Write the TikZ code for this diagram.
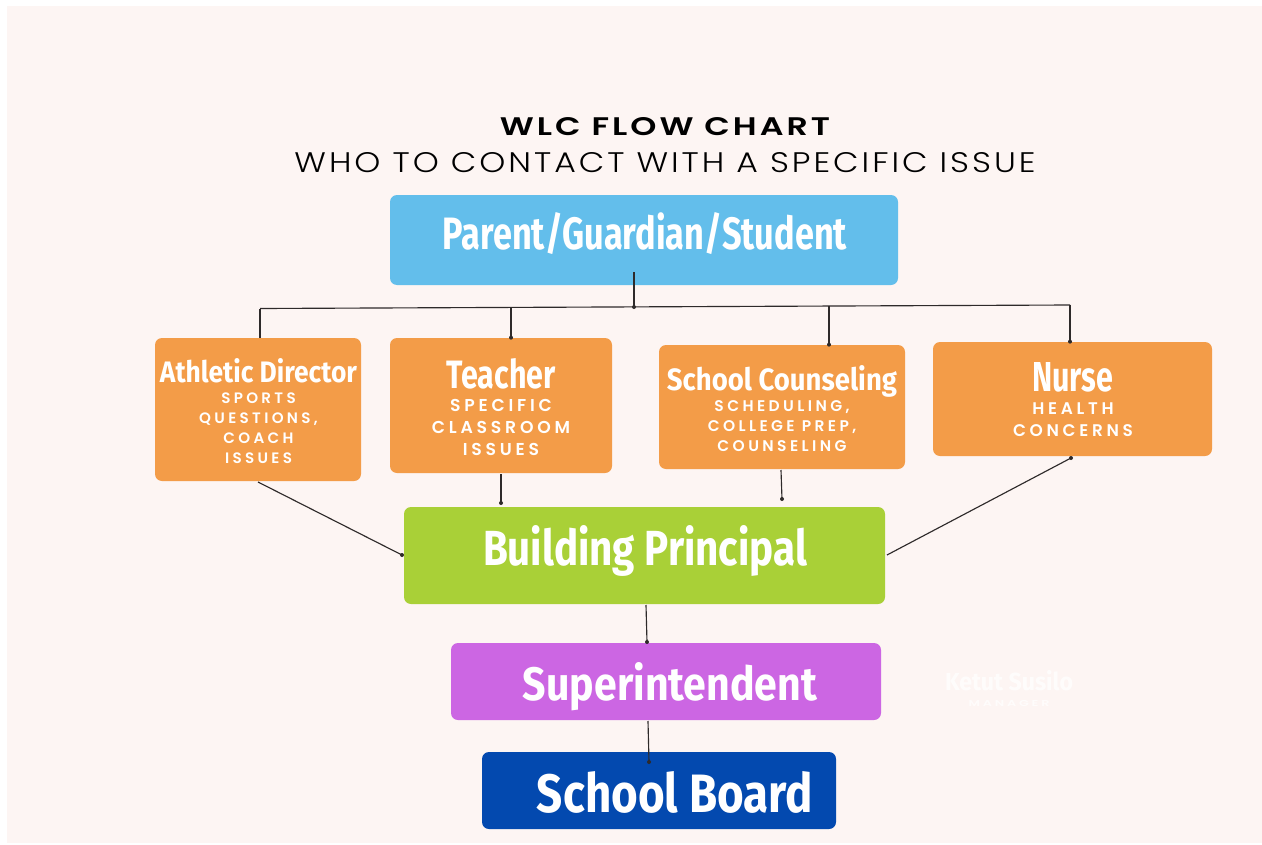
\documentclass[tikz,border=0pt]{standalone}
\usepackage{fontspec}
\usepackage{graphicx}
\usetikzlibrary{fit}
\setmainfont{Poppins}
\newfontfamily\fira{Fira Sans}
\newfontfamily\popls{Poppins SemiBold}[LetterSpace=22]
\newfontfamily\poptitle{Poppins SemiBold}[LetterSpace=9]
\newfontfamily\poplight{Poppins Light}[LetterSpace=9]
\newlength\px \setlength\px{0.02cm}
\newcommand\hd[3]{\resizebox{#1\px}{#2\px}{\fira\bfseries #3}}
\definecolor{bg}{HTML}{FDF5F3}
\definecolor{cblue}{HTML}{63BEEB}
\definecolor{corange}{HTML}{F39C48}
\definecolor{cgreen}{HTML}{A9D037}
\definecolor{cpurple}{HTML}{CC66E3}
\definecolor{cnavy}{HTML}{0349AF}
\definecolor{cline}{HTML}{2E2A2A}
\tikzset{
  box/.style={rectangle, rounded corners=0.14cm, inner sep=0pt, draw=none},
  ttl/.style={anchor=base, inner sep=0pt, text=white},
  sub/.style={anchor=base, inner sep=0pt, text=white, align=center},
  ln/.style={draw=cline, line width=0.65pt},
  dot/.style={fill=cline},
}
\begin{document}
\begin{tikzpicture}[x=0.02cm, y=-0.02cm]
\useasboundingbox (0,0) rectangle (1262,845);
\fill[white] (0,0) rectangle (1262,845);
\fill[bg] (7,6) rectangle (1262,843);

% title
\node[anchor=base, inner sep=0pt] (t1) at (665,135) {\resizebox{330\px}{18\px}{\poptitle WLC FLOW CHART}};
\node[anchor=base, inner sep=0pt] (t2) at (665,172) {\resizebox{741\px}{20\px}{\poplight WHO TO CONTACT WITH A SPECIFIC ISSUE}};

% boxes
\node[box, fill=cblue, fit={(390,195) (898,285)}] (pg) {};
\node[box, fill=corange, fit={(155,338) (361,481)}] (ad) {};
\node[box, fill=corange, fit={(390,338) (612,473)}] (te) {};
\node[box, fill=corange, fit={(659,345) (905,469)}] (sc) {};
\node[box, fill=corange, fit={(933,342) (1212,456)}] (nu) {};
\node[box, fill=cgreen, fit={(404,507) (885,604)}] (bp) {};
\node[box, fill=cpurple, fit={(451,643) (881,720)}] (su) {};
\node[box, fill=cnavy, fit={(482,752) (836,829)}] (sb) {};

% headings
\node[ttl] (pgt) at (645,249) {\hd{404}{37}{Parent/Guardian/Student}};
\node[ttl] (adt) at (258.5,382) {\hd{197}{24}{Athletic Director}};
\node[ttl] (tet) at (501,388) {\hd{109}{30}{Teacher}};
\node[ttl] (sct) at (782,390) {\hd{230}{25}{School Counseling}};
\node[ttl] (nut) at (1072.5,391) {\hd{81}{29}{Nurse}};
\node[ttl] (bpt) at (645,565) {\hd{324}{40}{Building Principal}};
\node[ttl] (sut) at (670,700) {\hd{294}{38}{Superintendent}};
\node[ttl] (sbt) at (675,812) {\hd{276}{41}{School Board}};

% sub texts (base = last line)
\node[sub, font=\popls\fontsize{8.6}{11.3}\selectfont] (ads) at (258.5,463) {SPORTS\\QUESTIONS,\\COACH\\ISSUES};
\node[sub, font=\popls\fontsize{9.8}{12.3}\selectfont] (tes) at (501,455) {SPECIFIC\\CLASSROOM\\ISSUES};
\node[sub, font=\popls\fontsize{8.8}{11.1}\selectfont] (scs) at (782,451) {SCHEDULING,\\COLLEGE PREP,\\COUNSELING};
\node[sub, font=\popls\fontsize{9.6}{12.5}\selectfont] (nus) at (1073,436) {HEALTH\\CONCERNS};

% watermark
\node[ttl, text opacity=0.75] (wm1) at (1009,690) {\hd{128}{20}{Ketut Susilo}};
\node[anchor=base, inner sep=0pt, text=white, text opacity=0.75] (wm2) at (1009,706) {\resizebox{81\px}{6\px}{\popls MANAGER}};

% connectors
\coordinate (pgs) at (634,272);
\coordinate (j0) at (634,307);
\coordinate (bl) at (260,308.5);
\coordinate (br) at (1070,305);
\coordinate (jt) at (511,308);
\coordinate (jc) at (829,306);
\draw[ln] (pgs) -- (j0);
\draw[ln] (bl) -- (br);
\draw[ln] (bl) -- (ad.north -| bl);
\draw[ln] (jt) -- (te.north -| jt);
\draw[ln] (jc) -- (sc.north -| jc);
\draw[ln] (br) -- (nu.north -| br);
\fill[dot] (j0) circle (2);
\fill[dot] (te.north -| jt) circle (2);
\fill[dot] (sc.north -| jc) circle (2);
\fill[dot] (nu.north -| br) circle (2);

\coordinate (ads0) at (258,482);
\coordinate (bpl) at (402,555);
\draw[ln] (ads0) -- (bpl);
\fill[dot] (bpl) circle (2);

\coordinate (tes0) at (501,474);
\coordinate (tes1) at (501,503);
\draw[ln] (tes0) -- (tes1);
\fill[dot] (tes1) circle (2);

\coordinate (scs0) at (781,470);
\coordinate (scs1) at (782,499);
\draw[ln] (scs0) -- (scs1);
\fill[dot] (scs1) circle (2);

\coordinate (nus0) at (1071,458);
\coordinate (bpr) at (887,555);
\draw[ln] (nus0) -- (bpr);
\fill[dot] (nus0) circle (2);

\coordinate (bps0) at (646,605);
\coordinate (sun) at (647,642);
\draw[ln] (bps0) -- (sun);
\fill[dot] (sun) circle (2);

\coordinate (sus0) at (648,721);
\coordinate (sbn) at (649,762);
\draw[ln] (sus0) -- (sbn);
\fill[dot] (sbn) circle (2);
\end{tikzpicture}
\end{document}
